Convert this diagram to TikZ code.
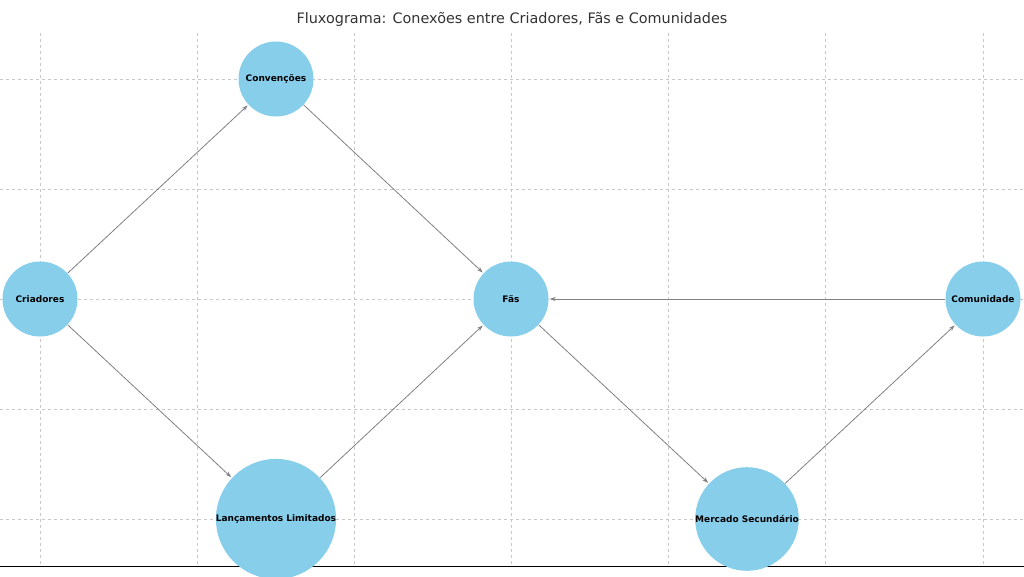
\documentclass[tikz,border=0pt]{standalone}
\usepackage{fontspec}
\setmainfont{DejaVu Sans}
\usetikzlibrary{arrows.meta}
\definecolor{nodeblue}{HTML}{87CEEB}
\begin{document}
\begin{tikzpicture}[x=1pt,y=-1pt,
    >={Stealth[length=6pt,width=4pt]},
    ]
\tikzset{
  vert/.style={circle, fill=nodeblue, minimum size=75pt, inner sep=0pt, font=\bfseries\small},
  edge/.style={->, draw=gray, line width=0.8pt, shorten >=1pt},
  gridline/.style={draw=black!22, dashed, line width=0.5pt}
}
\useasboundingbox (0,0) rectangle (1024,576);
% grid
\foreach \x in {40,197,354,511,668,825,983}
  \draw [gridline] (\x,33) -- (\x,566);
\foreach \y in {79,189,299,409,519}
  \draw [gridline] (0,\y) -- (1024,\y);
\draw [black, line width=0.8pt] (0,566) -- (1024,566);
\node [font=\Large, text=black!80] (title) at (512,19) {Fluxograma: Conexões entre Criadores, Fãs e Comunidades};
% nodes
\node [vert] (criadores) at (40,299) {Criadores};
\node [vert] (convencoes) at (276,79) {Convenções};
\node [vert] (lancamentos) at (276,519) {Lançamentos Limitados};
\node [vert] (fas) at (511,299) {Fãs};
\node [vert] (mercado) at (747,519) {Mercado Secundário};
\node [vert] (comunidade) at (983,299) {Comunidade};
% edges
\draw [edge] (criadores) -- (convencoes);
\draw [edge] (criadores) -- (lancamentos);
\draw [edge] (convencoes) -- (fas);
\draw [edge] (lancamentos) -- (fas);
\draw [edge] (fas) -- (mercado);
\draw [edge] (mercado) -- (comunidade);
\draw [edge] (comunidade) -- (fas);
\end{tikzpicture}
\end{document}
